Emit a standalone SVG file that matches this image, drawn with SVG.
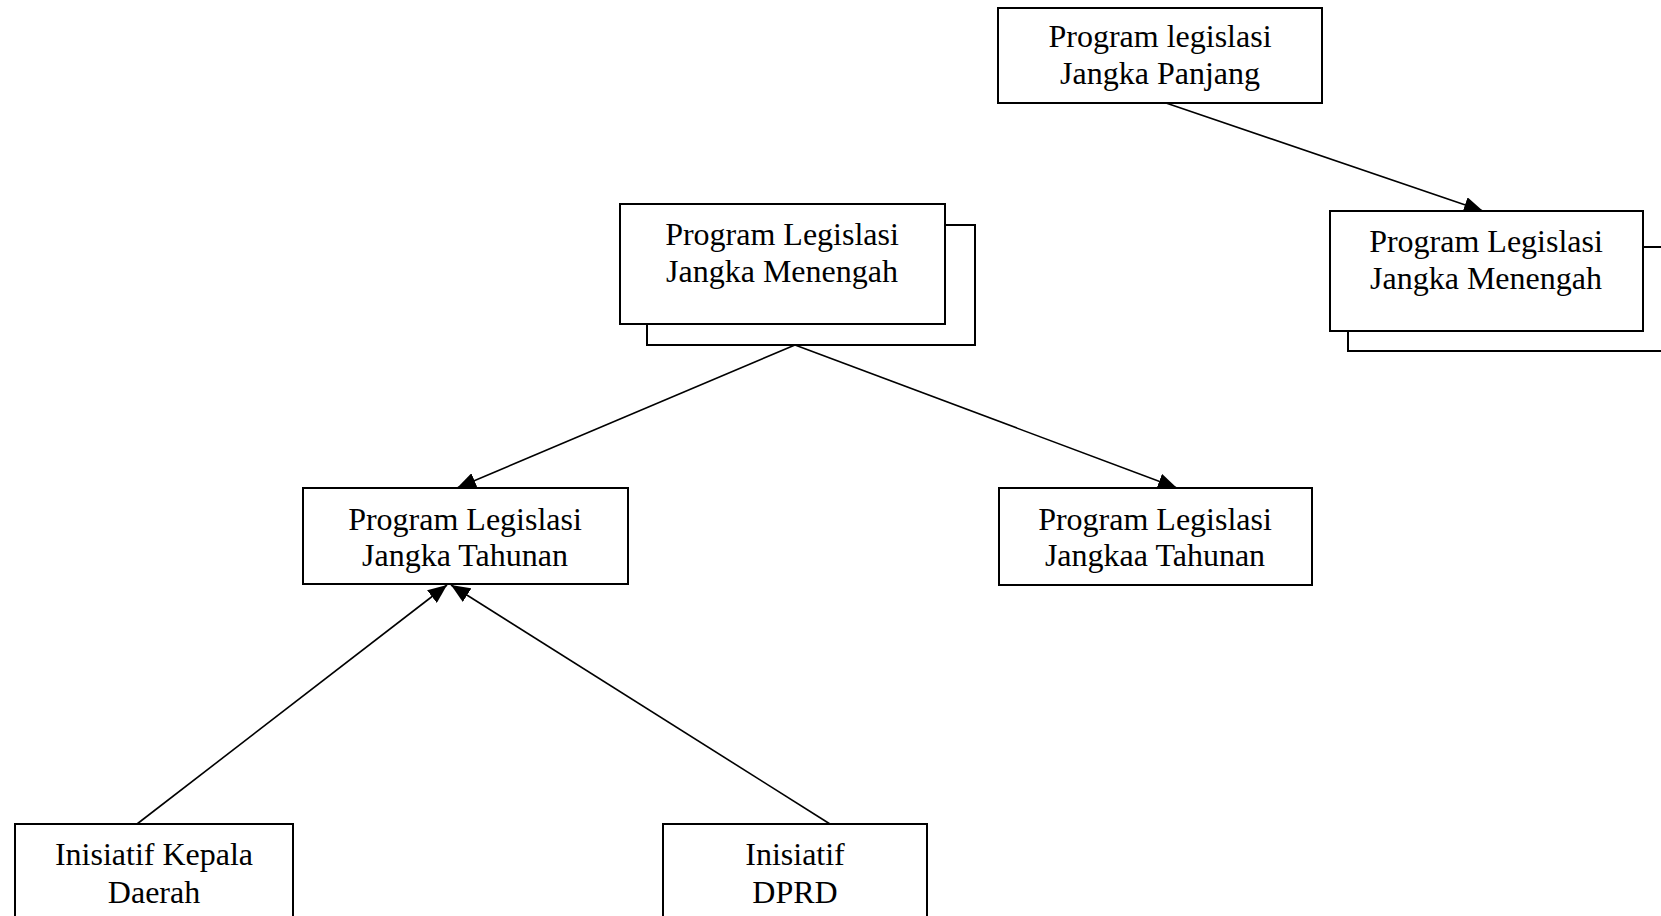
<svg xmlns="http://www.w3.org/2000/svg" width="1661" height="916" viewBox="0 0 1661 916">
<style>
.box{fill:#fff;stroke:#000;stroke-width:2}
.conn{stroke:#000;stroke-width:1.6;fill:none}
.t{font-family:"Liberation Serif","Times New Roman",serif;font-size:32px;fill:#000;text-anchor:middle}
</style>
<defs>
<marker id="arr" markerUnits="userSpaceOnUse" markerWidth="20" markerHeight="16" viewBox="0 0 20 16" refX="19" refY="8" orient="auto">
<path d="M0,0 L19,8 L0,16 Z" fill="#000"/>
</marker>
</defs>
<rect width="1661" height="916" fill="#fff"/>
<g id="connectors">
<line class="conn" x1="1166" y1="103" x2="1483" y2="211" marker-end="url(#arr)"/>
<line class="conn" x1="795" y1="345" x2="457" y2="488" marker-end="url(#arr)"/>
<line class="conn" x1="795" y1="345" x2="1177" y2="488" marker-end="url(#arr)"/>
<line class="conn" x1="137" y1="824" x2="447" y2="585" marker-end="url(#arr)"/>
<line class="conn" x1="830" y1="824" x2="451" y2="585" marker-end="url(#arr)"/>
</g>
<g id="node-panjang">
<rect class="box" x="998" y="8" width="324" height="95"/>
<text class="t" x="1160" y="47">Program legislasi</text>
<text class="t" x="1160" y="84">Jangka Panjang</text>
</g>
<g id="node-menengah-left">
<rect class="box" x="647" y="225" width="328" height="120"/>
<rect class="box" x="620" y="204" width="325" height="120"/>
<text class="t" x="782" y="245">Program Legislasi</text>
<text class="t" x="782" y="282">Jangka Menengah</text>
</g>
<g id="node-menengah-right">
<rect class="box" x="1348" y="247" width="330" height="104"/>
<rect class="box" x="1330" y="211" width="313" height="120"/>
<text class="t" x="1486" y="252">Program Legislasi</text>
<text class="t" x="1486" y="289">Jangka Menengah</text>
</g>
<g id="node-tahunan-left">
<rect class="box" x="303" y="488" width="325" height="96"/>
<text class="t" x="465" y="530">Program Legislasi</text>
<text class="t" x="465" y="566">Jangka Tahunan</text>
</g>
<g id="node-tahunan-right">
<rect class="box" x="999" y="488" width="313" height="97"/>
<text class="t" x="1155" y="530">Program Legislasi</text>
<text class="t" x="1155" y="566">Jangkaa Tahunan</text>
</g>
<g id="node-kepala">
<rect class="box" x="15" y="824" width="278" height="110"/>
<text class="t" x="154" y="865">Inisiatif Kepala</text>
<text class="t" x="154" y="903">Daerah</text>
</g>
<g id="node-dprd">
<rect class="box" x="663" y="824" width="264" height="110"/>
<text class="t" x="795" y="865">Inisiatif</text>
<text class="t" x="795" y="903">DPRD</text>
</g>
</svg>
